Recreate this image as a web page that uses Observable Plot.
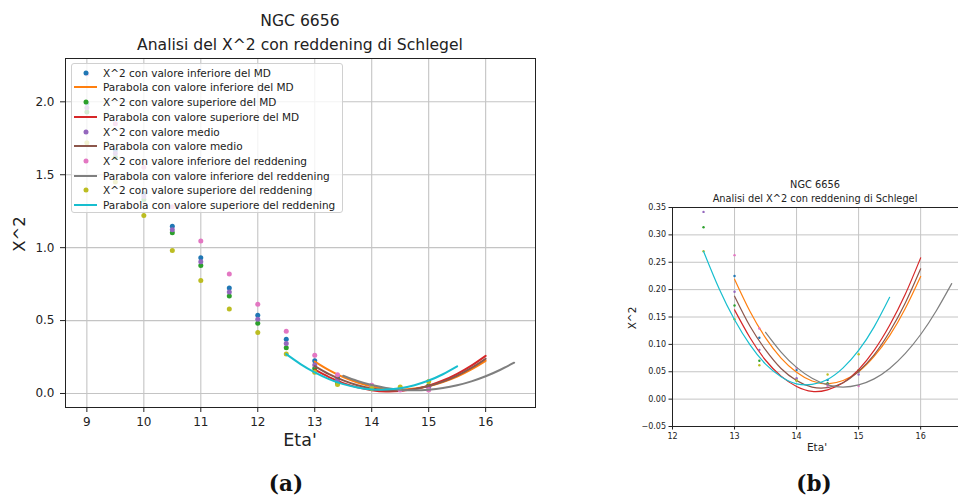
<!DOCTYPE html>
<html><head><meta charset="utf-8">
<script src="https://cdn.jsdelivr.net/npm/d3@7"></script>
<script src="https://cdn.jsdelivr.net/npm/@observablehq/plot@0.6"></script>
<style>
html,body{margin:0;padding:0;background:#fff;}
body{width:958px;height:498px;position:relative;overflow:hidden;font-family:"DejaVu Sans",sans-serif;color:#222;}
.abs{position:absolute;}
.ctr{position:absolute;transform:translate(-50%,-50%);white-space:nowrap;}
.rot{position:absolute;transform:translate(-50%,-50%) rotate(-90deg);white-space:nowrap;}
.cap{font-family:"DejaVu Serif",serif;font-weight:bold;font-size:21.5px;color:#111;}
#legend{position:absolute;left:71px;top:63px;width:272px;height:150px;background:rgba(255,255,255,0.8);border:1px solid #d0d0d0;border-radius:3px;box-sizing:border-box;font-size:10.5px;}
#legend .row{position:absolute;left:0;height:14px;white-space:nowrap;}
#legend svg{position:absolute;left:1px;top:0;}
#legend span{position:absolute;left:31px;top:0;line-height:14px;}
</style></head><body>
<div id="left" class="abs" style="left:0;top:0;width:560px;height:460px"></div>
<div id="right" class="abs" style="left:610px;top:170px;width:348px;height:290px"></div>
<div id="legend"></div>
<div class="ctr" style="left:300px;top:20.5px;font-size:15.6px">NGC 6656</div>
<div class="ctr" style="left:300px;top:44.5px;font-size:15.6px">Analisi del X^2 con reddening di Schlegel</div>
<div class="rot" style="left:19px;top:234px;font-size:16.5px">X^2</div>
<div class="ctr" style="left:300px;top:440px;font-size:17.5px">Eta'</div>
<div class="ctr" style="left:815px;top:184px;font-size:9.8px">NGC 6656</div>
<div class="ctr" style="left:815px;top:198px;font-size:9.8px">Analisi del X^2 con reddening di Schlegel</div>
<div class="rot" style="left:632px;top:318px;font-size:10.5px">X^2</div>
<div class="ctr" style="left:817px;top:447px;font-size:10.5px">Eta'</div>
<div class="ctr cap" style="left:286px;top:483px">(a)</div>
<div class="ctr cap" style="left:814px;top:483px">(b)</div>
<script>
// ---- data ----
const eta = [9, 9.5, 10, 10.5, 11, 11.5, 12, 12.5, 13, 13.4, 14, 14.5, 15];
const chi2InfMD = [1.99, 1.67, 1.37, 1.146, 0.931, 0.723, 0.536, 0.372, 0.225, 0.112, 0.053, 0.035, 0.050];
const chi2SupMD = [1.93, 1.62, 1.33, 1.103, 0.877, 0.668, 0.482, 0.314, 0.171, 0.070, 0.034, 0.029, 0.053];
const chi2Medio = [1.96, 1.645, 1.35, 1.123, 0.904, 0.696, 0.509, 0.342, 0.196, 0.090, 0.038, 0.027, 0.045];
const chi2InfRed = [2.19, 1.85, 1.552, 1.28, 1.045, 0.819, 0.612, 0.427, 0.263, 0.129, 0.057, 0.024, 0.024];
const chi2SupRed = [1.72, 1.45, 1.221, 0.981, 0.774, 0.580, 0.418, 0.270, 0.146, 0.062, 0.034, 0.045, 0.082];

const etaParabMD = [13, 13.25, 13.5, 13.75, 14, 14.25, 14.5, 14.75, 15, 15.25, 15.5, 15.75, 16];
const parabInfMD = [0.219, 0.160, 0.112, 0.075, 0.049, 0.033, 0.028, 0.034, 0.050, 0.078, 0.116, 0.165, 0.224];
const parabSupMD = [0.163, 0.112, 0.071, 0.042, 0.023, 0.014, 0.017, 0.030, 0.054, 0.089, 0.135, 0.191, 0.258];
const parabMedio = [0.188, 0.133, 0.090, 0.056, 0.034, 0.022, 0.021, 0.030, 0.051, 0.081, 0.123, 0.175, 0.238];
const etaParabInfRed = [13.5, 13.75, 14, 14.25, 14.5, 14.75, 15, 15.25, 15.5, 15.75, 16, 16.25, 16.5];
const parabInfRed = [0.122, 0.086, 0.058, 0.038, 0.026, 0.022, 0.026, 0.037, 0.056, 0.083, 0.118, 0.161, 0.211];
const etaParabSupRed = [12.5, 12.75, 13, 13.25, 13.5, 13.75, 14, 14.25, 14.5, 14.75, 15, 15.25, 15.5];
const parabSupRed = [0.270, 0.202, 0.145, 0.099, 0.064, 0.041, 0.028, 0.027, 0.036, 0.057, 0.089, 0.132, 0.186];

const seriesLabels = [
  "X^2 con valore inferiore del MD",
  "Parabola con valore inferiore del MD",
  "X^2 con valore superiore del MD",
  "Parabola con valore superiore del MD",
  "X^2 con valore medio",
  "Parabola con valore medio",
  "X^2 con valore inferiore del reddening",
  "Parabola con valore inferiore del reddening",
  "X^2 con valore superiore del reddening",
  "Parabola con valore superiore del reddening"
];
const seriesColors = ["#1f77b4", "#ff7f0e", "#2ca02c", "#d62728", "#9467bd", "#8c564b", "#e377c2", "#7f7f7f", "#bcbd22", "#17becf"];

const ticksLeftX = [9, 10, 11, 12, 13, 14, 15, 16];
const ticksLeftY = [0, 0.5, 1.0, 1.5, 2.0];
const ticksRightX = [12, 13, 14, 15, 16];
const ticksRightY = [-0.05, 0, 0.05, 0.10, 0.15, 0.20, 0.25, 0.30, 0.35];

// ---- build ----
const pointSeries = [chi2InfMD, chi2SupMD, chi2Medio, chi2InfRed, chi2SupRed];
const lineSeries = [[etaParabMD, parabInfMD], [etaParabMD, parabSupMD], [etaParabMD, parabMedio], [etaParabInfRed, parabInfRed], [etaParabSupRed, parabSupRed]];

function seriesMarks(r, sw) {
  const marks = [];
  for (let i = 0; i < 5; i++) {
    const pts = eta.map((x, j) => ({eta: x, chi: pointSeries[i][j]}));
    marks.push(Plot.dot(pts, {x: "eta", y: "chi", r, fill: seriesColors[2 * i], stroke: "none", clip: true}));
    const [xs, ys] = lineSeries[i];
    const ln = xs.map((x, j) => ({eta: x, chi: ys[j]}));
    marks.push(Plot.line(ln, {x: "eta", y: "chi", stroke: seriesColors[2 * i + 1], strokeWidth: sw, curve: "natural", clip: true}));
  }
  return marks;
}

const gridColor = "#c4c4c4";
const left = Plot.plot({
  width: 560, height: 460,
  marginLeft: 65, marginRight: 25, marginTop: 58, marginBottom: 53,
  x: {domain: [8.625, 16.875]},
  y: {domain: [-0.096, 2.297]},
  style: {background: "transparent", fontFamily: "DejaVu Sans", fontSize: "12px", color: "#222"},
  marks: [
    Plot.gridX({ticks: ticksLeftX, stroke: gridColor, strokeOpacity: 1, strokeWidth: 1.1}),
    Plot.gridY({ticks: ticksLeftY, stroke: gridColor, strokeOpacity: 1, strokeWidth: 1.1}),
    ...seriesMarks(2.5, 2),
    Plot.frame({stroke: "#222", strokeWidth: 1}),
    Plot.axisX({ticks: ticksLeftX, tickSize: 5, tickPadding: 5, tickFormat: d3.format("d"), fontSize: 12, label: null}),
    Plot.axisY({ticks: ticksLeftY, tickSize: 5, tickPadding: 6, tickFormat: d3.format(".1f"), fontSize: 12, label: null})
  ]
});
document.getElementById("left").appendChild(left);

const right = Plot.plot({
  width: 348, height: 290,
  marginLeft: 62, marginRight: 0, marginTop: 37, marginBottom: 34,
  x: {domain: [12, 16.61]},
  y: {domain: [-0.05, 0.35]},
  style: {background: "transparent", fontFamily: "DejaVu Sans", fontSize: "8px", color: "#222"},
  marks: [
    Plot.gridX({ticks: ticksRightX, stroke: gridColor, strokeOpacity: 1, strokeWidth: 1}),
    Plot.gridY({ticks: ticksRightY, stroke: gridColor, strokeOpacity: 1, strokeWidth: 1}),
    ...seriesMarks(1.2, 1.2),
    Plot.ruleX([12], {stroke: "#222", strokeWidth: 1}),
    Plot.ruleY([-0.05, 0.35], {stroke: "#222", strokeWidth: 1}),
    Plot.axisX({ticks: ticksRightX, tickSize: 3.5, tickPadding: 3, tickFormat: d3.format("d"), fontSize: 8, label: null}),
    Plot.axisY({ticks: ticksRightY, tickSize: 3.5, tickPadding: 3, tickFormat: d3.format(".2f"), fontSize: 8, label: null})
  ]
});
document.getElementById("right").appendChild(right);

// ---- legend ----
const leg = document.getElementById("legend");
seriesLabels.forEach((lab, i) => {
  const row = document.createElement("div");
  row.className = "row";
  row.style.top = (1.7 + i * 14.7) + "px";
  row.style.width = "270px";
  const isLine = lab.startsWith("Parabola");
  const svg = isLine
    ? `<svg width="26" height="14"><line x1="1" x2="24" y1="7" y2="7" stroke="${seriesColors[i]}" stroke-width="2"/></svg>`
    : `<svg width="26" height="14"><circle cx="13" cy="7" r="2.5" fill="${seriesColors[i]}"/></svg>`;
  row.innerHTML = svg + `<span>${lab}</span>`;
  leg.appendChild(row);
});
</script>
</body></html>
